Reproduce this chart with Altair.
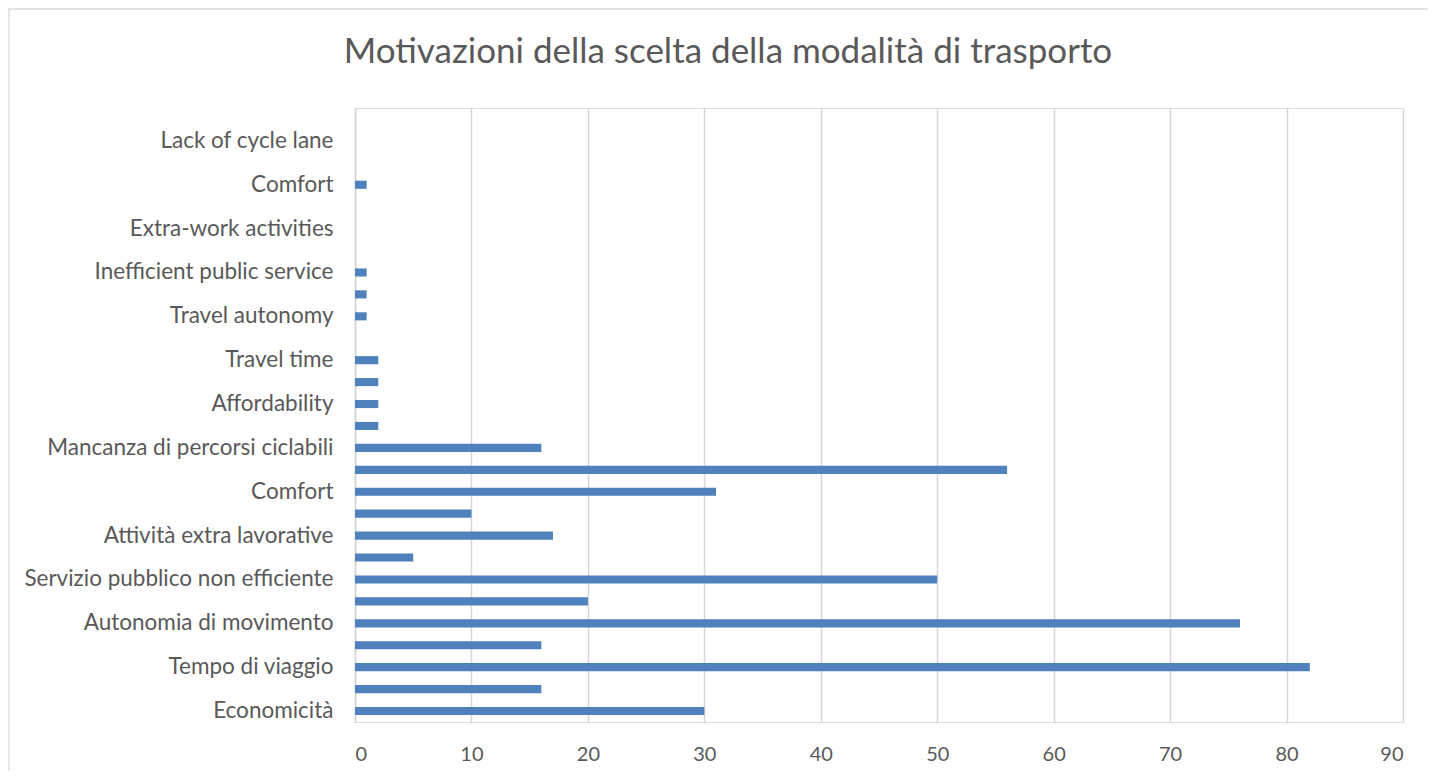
import altair as alt
import pandas as pd

# Categories from bottom (index 0) to top; empty strings are rows whose label Excel skipped
labels = [
    "Economicità", "", "Tempo di viaggio", "", "Autonomia di movimento", "",
    "Servizio pubblico non efficiente", "", "Attività extra lavorative", "",
    "Comfort", "", "Mancanza di percorsi ciclabili", "",
    "Affordability", "", "Travel time", "", "Travel autonomy", "",
    "Inefficient public service", "", "Extra-work activities", "",
    "Comfort", "", "Lack of cycle lane", "",
]
values = [30, 16, 82, 16, 76, 20, 50, 5, 17, 10, 31, 56, 16, 2,
          2, 2, 2, 0, 1, 1, 1, 0, 0, 0, 1, 0, 0, 0]
x_ticks = [0, 10, 20, 30, 40, 50, 60, 70, 80, 90]
title = "Motivazioni della scelta della modalità di trasporto"

df = pd.DataFrame({"idx": list(range(len(labels))), "label": labels, "value": values})

label_list = "[" + ",".join("'" + l.replace("'", "\\'") + "'" for l in labels) + "]"

FONT = "Lato"
GREY = "#595959"
W, H = 1048, 614

bars = alt.Chart(df).mark_bar(color="#4f81bd").encode(
    x=alt.X("value:Q",
            scale=alt.Scale(domain=[0, 90], nice=False, zero=True),
            axis=alt.Axis(values=x_ticks, title=None, grid=True, gridColor="#d6d6d6",
                          gridWidth=1.5, ticks=False, domain=False, labelFontSize=20,
                          labelColor=GREY, labelFont=FONT, labelPadding=22)),
    y=alt.Y("idx:O", sort="descending",
            scale=alt.Scale(paddingInner=0.63, paddingOuter=0.315),
            axis=alt.Axis(title=None, ticks=False, domain=True, domainColor="#d6d6d6",
                          domainWidth=1.5, labelFontSize=22.5, labelColor=GREY, labelFont=FONT,
                          labelPadding=22, labelExpr=label_list + "[datum.value]",
                          labelLimit=400)),
)

frame = alt.Chart(pd.DataFrame({"a": [0]})).mark_rect(
    fillOpacity=0, stroke="#d9d9d9", strokeWidth=1.3
).encode(
    x=alt.value(-346), x2=alt.value(W + 200),
    y=alt.value(-99), y2=alt.value(H + 200),
)

chart = alt.layer(frame, bars).properties(
    width=W, height=H,
    title=alt.TitleParams(title, fontSize=35, font=FONT, color=GREY, fontWeight="normal",
                          anchor="middle", frame="group", dx=-151, offset=-62),
    autosize=alt.AutoSizeParams(type="none"),
    padding={"left": 347, "top": 100, "right": 25, "bottom": 49},
).configure_view(stroke="#ebe8dc", strokeWidth=1.3).configure(background="white")

chart.save("out.html", embed_options={"renderer": "svg", "actions": False})
